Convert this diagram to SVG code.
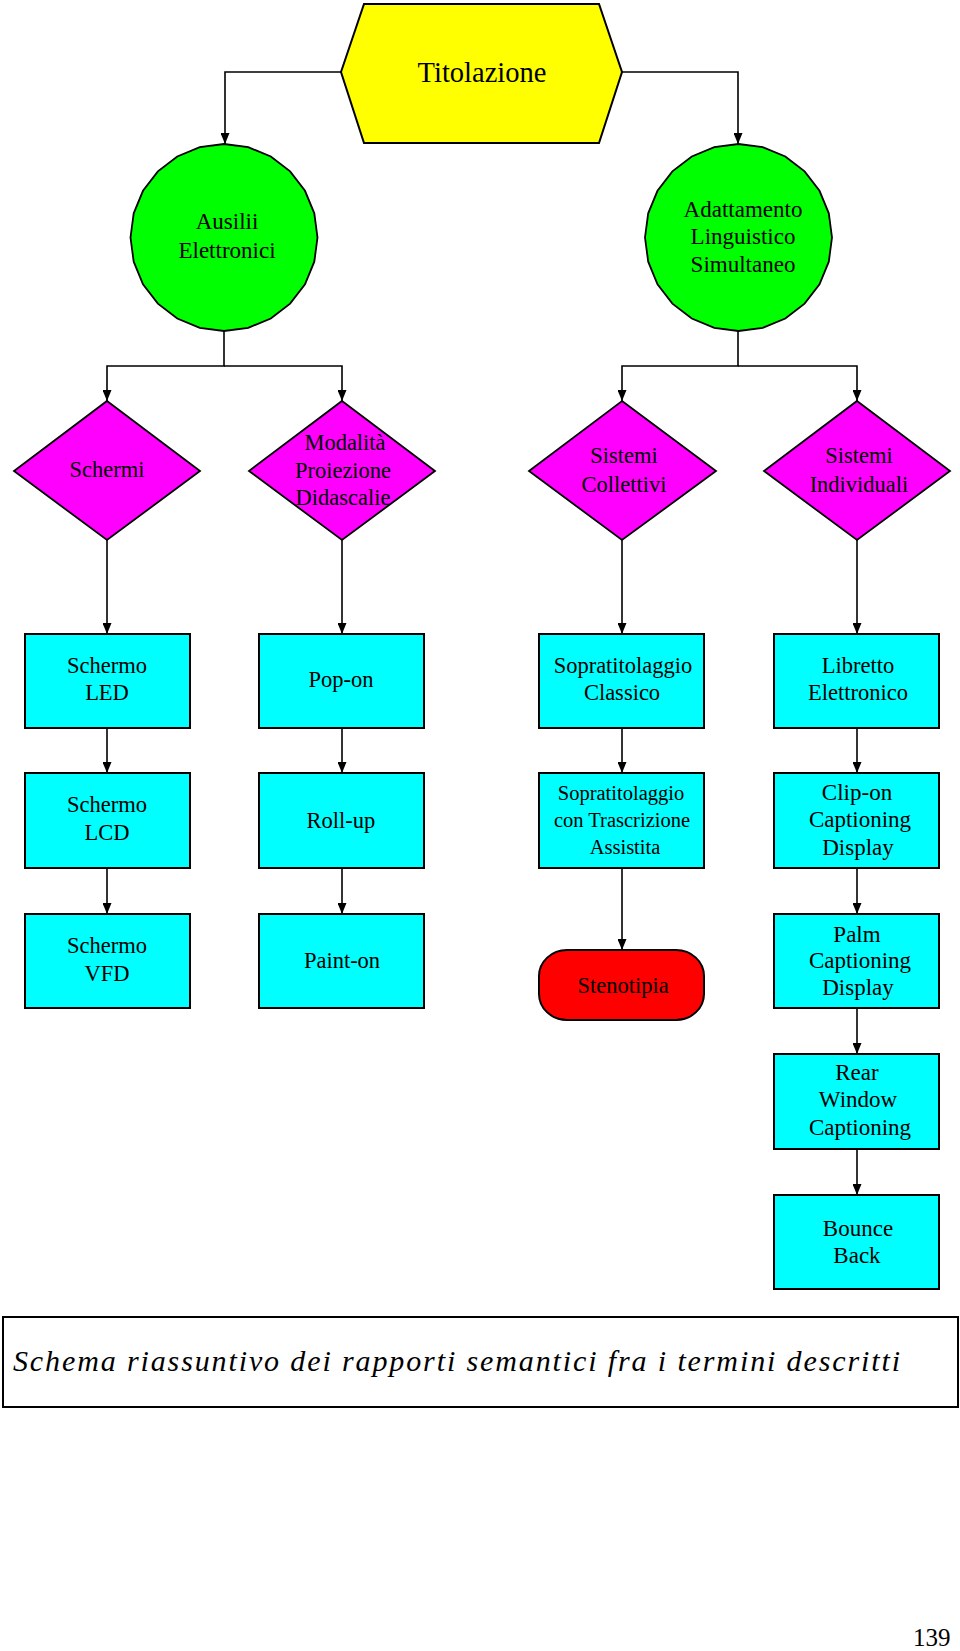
<svg xmlns="http://www.w3.org/2000/svg" width="960" height="1651" viewBox="0 0 960 1651">
<defs>
<marker id="arr" viewBox="0 0 11 9" refX="11" refY="4.5" markerWidth="11" markerHeight="9" markerUnits="userSpaceOnUse" orient="auto">
<path d="M0,0 L11,4.5 L0,9 z" fill="#000"/>
</marker>
<style>
text{font-family:"Liberation Serif","Times New Roman",serif;fill:#000;text-anchor:middle}
.t22{font-size:22.5px}
.t23{font-size:23px}
.box{fill:#00FFFF;stroke:#000;stroke-width:2}
.dia{fill:#FF00FF;stroke:#000;stroke-width:1.8}
.circ{fill:#00FF00;stroke:#000;stroke-width:1.8}
.con{fill:none;stroke:#000;stroke-width:1.6;marker-end:url(#arr)}
</style>
</defs>
<rect width="960" height="1651" fill="#fff"/>

<g id="connectors">
<path class="con" d="M341,72 H225 V144"/>
<path class="con" d="M622,72 H738 V144"/>
<path class="con" d="M224,331 V366 H107 V401"/>
<path class="con" d="M224,366 H342 V401"/>
<path class="con" d="M738,331 V366 H622 V401"/>
<path class="con" d="M738,366 H857 V401"/>
<path class="con" d="M107,540 V634"/>
<path class="con" d="M342,540 V634"/>
<path class="con" d="M622,540 V634"/>
<path class="con" d="M857,540 V634"/>
<path class="con" d="M107,728 V773"/>
<path class="con" d="M342,728 V773"/>
<path class="con" d="M622,728 V773"/>
<path class="con" d="M857,728 V773"/>
<path class="con" d="M107,868 V914"/>
<path class="con" d="M342,868 V914"/>
<path class="con" d="M622,868 V950"/>
<path class="con" d="M857,868 V914"/>
<path class="con" d="M857,1008 V1054"/>
<path class="con" d="M857,1149 V1195"/>
</g>

<g id="titolazione">
<polygon points="341,72 364,4 599,4 622,72 599,143 364,143" fill="#FFFF00" stroke="#000" stroke-width="2"/>
<text x="482" y="82" style="font-size:28.5px">Titolazione</text>
</g>

<g id="ausilii">
<polygon class="circ" points="317.5,237.5 314.3,261.7 305,284.3 290.1,303.6 270.8,318.5 248.2,327.8 224,331 199.8,327.8 177.3,318.5 157.9,303.6 143,284.3 133.7,261.7 130.5,237.5 133.7,213.3 143,190.8 157.9,171.4 177.3,156.5 199.8,147.2 224,144 248.2,147.2 270.8,156.5 290.1,171.4 305,190.8 314.3,213.3"/>
<text class="t23" x="227" y="229">Ausilii</text>
<text class="t23" x="227" y="258">Elettronici</text>
</g>

<g id="adattamento">
<polygon class="circ" points="832,237.5 828.8,261.7 819.5,284.3 804.6,303.6 785.3,318.5 762.7,327.8 738.5,331 714.3,327.8 691.8,318.5 672.4,303.6 657.5,284.3 648.2,261.7 645,237.5 648.2,213.3 657.5,190.8 672.4,171.4 691.8,156.5 714.3,147.2 738.5,144 762.7,147.2 785.3,156.5 804.6,171.4 819.5,190.8 828.8,213.3"/>
<text class="t23" x="743" y="217">Adattamento</text>
<text class="t23" x="743" y="244">Linguistico</text>
<text class="t23" x="743" y="272">Simultaneo</text>
</g>

<g id="schermi">
<polygon class="dia" points="107,401 200,471 107,540 14,471"/>
<text class="t22" x="107" y="477">Schermi</text>
</g>

<g id="modalita">
<polygon class="dia" points="342,401 435,471 342,540 249,471"/>
<text class="t22" x="345" y="450">Modalità</text>
<text class="t22" x="343" y="478">Proiezione</text>
<text class="t22" x="343" y="505">Didascalie</text>
</g>

<g id="collettivi">
<polygon class="dia" points="622,401 716,471 622,540 529,471"/>
<text class="t22" x="624" y="463">Sistemi</text>
<text class="t22" x="624" y="492">Collettivi</text>
</g>

<g id="individuali">
<polygon class="dia" points="857,401 950,471 857,540 764,471"/>
<text class="t22" x="859" y="463">Sistemi</text>
<text class="t22" x="859" y="492">Individuali</text>
</g>

<g id="schermo-led">
<rect class="box" x="25" y="634" width="165" height="94"/>
<text class="t22" x="107" y="673">Schermo</text>
<text class="t22" x="107" y="700">LED</text>
</g>

<g id="pop-on">
<rect class="box" x="259" y="634" width="165" height="94"/>
<text class="t22" x="341" y="687">Pop-on</text>
</g>

<g id="sopratitolaggio-classico">
<rect class="box" x="539" y="634" width="165" height="94"/>
<text class="t22" x="623" y="673">Sopratitolaggio</text>
<text class="t22" x="622" y="700">Classico</text>
</g>

<g id="libretto">
<rect class="box" x="774" y="634" width="165" height="94"/>
<text class="t22" x="858" y="673">Libretto</text>
<text class="t22" x="858" y="700">Elettronico</text>
</g>

<g id="schermo-lcd">
<rect class="box" x="25" y="773" width="165" height="95"/>
<text class="t22" x="107" y="812">Schermo</text>
<text class="t22" x="107" y="840">LCD</text>
</g>

<g id="roll-up">
<rect class="box" x="259" y="773" width="165" height="95"/>
<text class="t22" x="341" y="828">Roll-up</text>
</g>

<g id="sopratitolaggio-trascrizione">
<rect class="box" x="539" y="773" width="165" height="95"/>
<text x="621" y="800" style="font-size:20.5px">Sopratitolaggio</text>
<text x="622" y="827" style="font-size:20.5px">con Trascrizione</text>
<text x="625" y="854" style="font-size:20.5px">Assistita</text>
</g>

<g id="clip-on">
<rect class="box" x="774" y="773" width="165" height="95"/>
<text class="t23" x="857" y="800">Clip-on</text>
<text class="t23" x="860" y="827">Captioning</text>
<text class="t23" x="858" y="855">Display</text>
</g>

<g id="schermo-vfd">
<rect class="box" x="25" y="914" width="165" height="94"/>
<text class="t22" x="107" y="953">Schermo</text>
<text class="t22" x="107" y="981">VFD</text>
</g>

<g id="paint-on">
<rect class="box" x="259" y="914" width="165" height="94"/>
<text class="t22" x="342" y="968">Paint-on</text>
</g>

<g id="stenotipia">
<rect x="539" y="950" width="165" height="70" rx="28" ry="26" fill="#FF0000" stroke="#000" stroke-width="2"/>
<text class="t22" x="623" y="993">Stenotipia</text>
</g>

<g id="palm">
<rect class="box" x="774" y="914" width="165" height="94"/>
<text class="t23" x="857" y="942">Palm</text>
<text class="t23" x="860" y="968">Captioning</text>
<text class="t23" x="858" y="995">Display</text>
</g>

<g id="rear-window">
<rect class="box" x="774" y="1054" width="165" height="95"/>
<text class="t23" x="857" y="1080">Rear</text>
<text class="t23" x="858" y="1107">Window</text>
<text class="t23" x="860" y="1135">Captioning</text>
</g>

<g id="bounce-back">
<rect class="box" x="774" y="1195" width="165" height="94"/>
<text class="t23" x="858" y="1236">Bounce</text>
<text class="t23" x="857" y="1263">Back</text>
</g>

<g id="caption">
<rect x="3" y="1317" width="955" height="90" fill="#fff" stroke="#000" stroke-width="2"/>
<text x="13" y="1371" style="font-size:30px;font-style:italic;text-anchor:start" textLength="887" lengthAdjust="spacing">Schema riassuntivo dei rapporti semantici fra i termini descritti</text>
</g>

<text x="913" y="1646" style="font-size:25px;text-anchor:start">139</text>
</svg>
